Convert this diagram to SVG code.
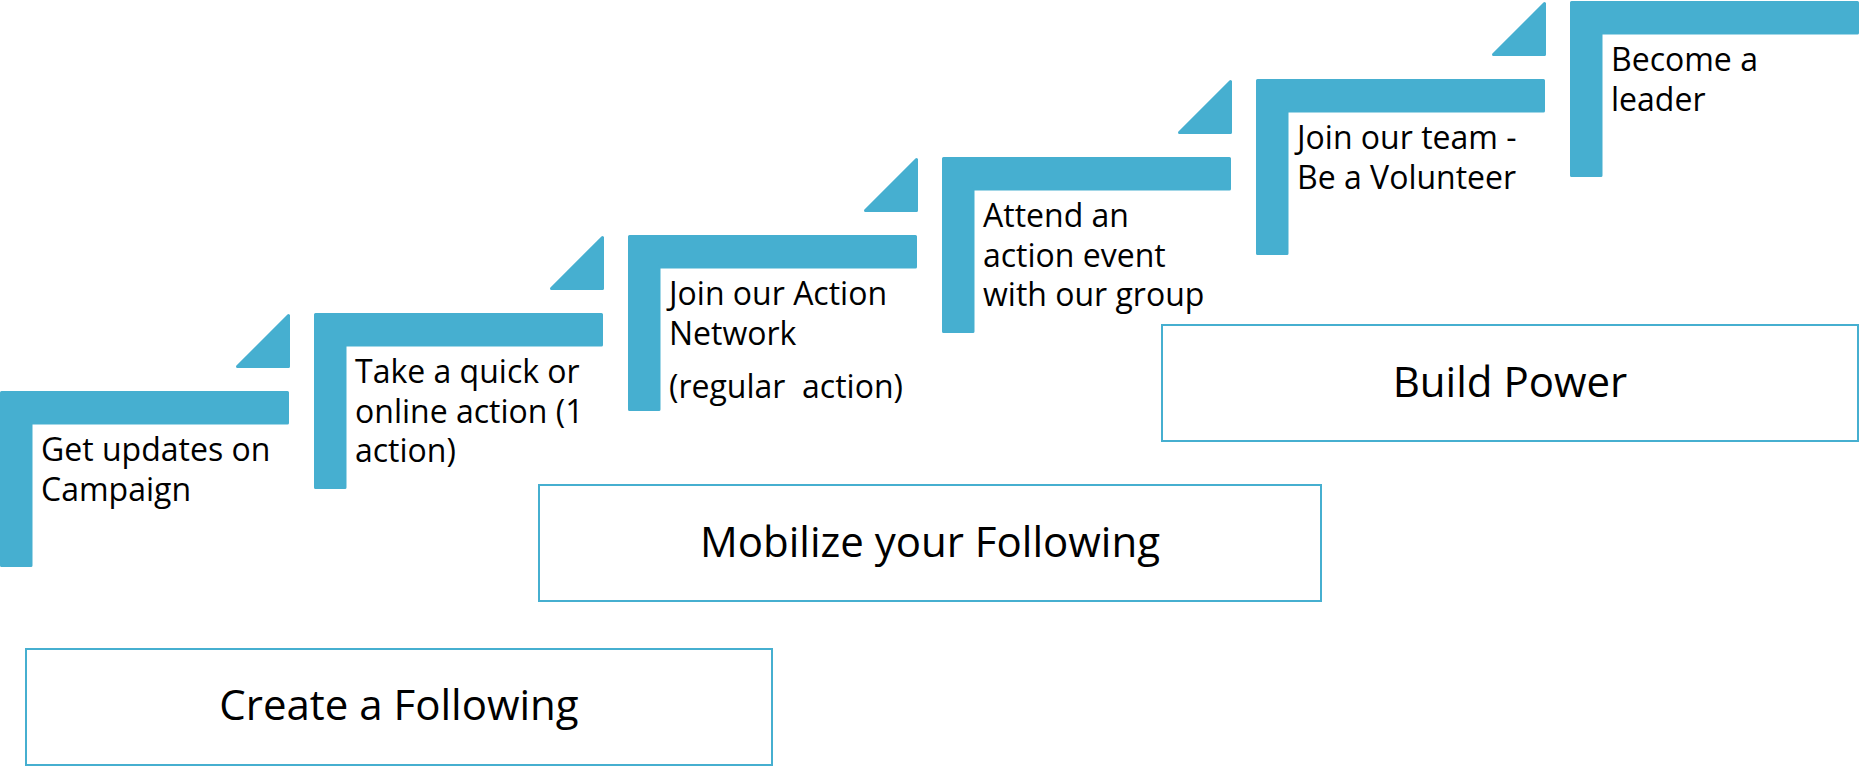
<svg xmlns="http://www.w3.org/2000/svg" width="1864" height="768" viewBox="0 0 1864 768">
  <style>
    .bar { fill: #46afd0; stroke: #46afd0; stroke-width: 3; stroke-linejoin: round; }
    .step-text { font-family: "Open Sans", "Liberation Sans", sans-serif; font-size: 32px; fill: #000; }
    .phase { fill: #fff; stroke: #46afd0; stroke-width: 2; }
    .phase-text { font-family: "Open Sans", "Liberation Sans", sans-serif; font-size: 42px; fill: #000; text-anchor: middle; }
  </style>
  <defs>
    <!-- L-shaped stair step: top tread and left riser -->
    <path id="stair" d="M1.5,1.5 H287.5 V32 H31 V174.5 H1.5 Z"/>
    <!-- small up-right wedge leading to the next step -->
    <path id="wedge" d="M-25.5,2.5 V53.5 H-76.5 Z"/>
  </defs>
  <rect width="1864" height="768" fill="#fff"/>

  <!-- wedges between consecutive steps -->
  <g id="connectors">
    <use href="#wedge" class="bar" transform="translate(314,313)"/>
    <use href="#wedge" class="bar" transform="translate(628,235)"/>
    <use href="#wedge" class="bar" transform="translate(942,157)"/>
    <use href="#wedge" class="bar" transform="translate(1256,79)"/>
    <use href="#wedge" class="bar" transform="translate(1570,1)"/>
  </g>

  <g id="step-1" transform="translate(0,391)">
    <use href="#stair" class="bar"/>
    <text class="step-text"><tspan x="41" y="70">Get updates on</tspan><tspan x="41" y="109.5">Campaign</tspan></text>
  </g>

  <g id="step-2" transform="translate(314,313)">
    <use href="#stair" class="bar"/>
    <text class="step-text"><tspan x="41" y="70">Take a quick or</tspan><tspan x="41" y="109.5">online action (1</tspan><tspan x="41" y="149">action)</tspan></text>
  </g>

  <g id="step-3" transform="translate(628,235)">
    <use href="#stair" class="bar"/>
    <text class="step-text"><tspan x="41" y="70">Join our Action</tspan><tspan x="41" y="109.5">Network</tspan></text>
    <text class="step-text" x="41" y="163" xml:space="preserve">(regular  action)</text>
  </g>

  <g id="step-4" transform="translate(942,157)">
    <use href="#stair" class="bar"/>
    <text class="step-text"><tspan x="41" y="70">Attend an</tspan><tspan x="41" y="109.5">action event</tspan><tspan x="41" y="149">with our group</tspan></text>
  </g>

  <g id="step-5" transform="translate(1256,79)">
    <use href="#stair" class="bar"/>
    <text class="step-text"><tspan x="41" y="70">Join our team -</tspan><tspan x="41" y="109.5">Be a Volunteer</tspan></text>
  </g>

  <g id="step-6" transform="translate(1570,1)">
    <use href="#stair" class="bar"/>
    <text class="step-text"><tspan x="41" y="70">Become a</tspan><tspan x="41" y="109.5">leader</tspan></text>
  </g>

  <g id="phase-build-power">
    <rect class="phase" x="1162" y="325" width="696" height="116"/>
    <text class="phase-text" x="1510" y="397">Build Power</text>
  </g>

  <g id="phase-mobilize">
    <rect class="phase" x="539" y="485" width="782" height="116"/>
    <text class="phase-text" x="930" y="557">Mobilize your Following</text>
  </g>

  <g id="phase-create">
    <rect class="phase" x="26" y="649" width="746" height="116"/>
    <text class="phase-text" x="399" y="720">Create a Following</text>
  </g>
</svg>
